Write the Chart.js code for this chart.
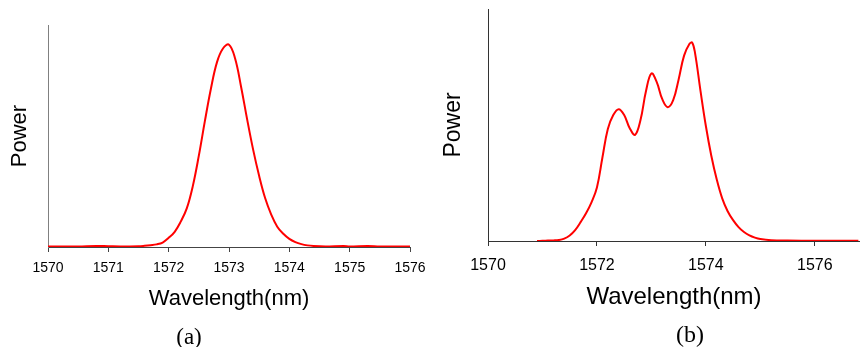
<!DOCTYPE html>
<html>
<head>
<meta charset="utf-8">
<script src="https://cdn.jsdelivr.net/npm/chart.js@4"></script>
<style>
  body { margin: 0; background: #fff; width: 860px; height: 347px; position: relative; overflow: hidden; }
  canvas { position: absolute; top: 0; }
  .cap { position: absolute; font-family: "Liberation Serif", "Times New Roman", serif; color: #000; transform: translate(-50%, -50%); line-height: 1; }
</style>
</head>
<body>
<canvas id="chartA" width="430" height="347" style="left:0"></canvas>
<canvas id="chartB" width="430" height="347" style="left:430px"></canvas>
<div class="cap" style="left:189px;top:336px;font-size:23px">(a)</div>
<div class="cap" style="left:690px;top:334px;font-size:24px">(b)</div>
<script>
// (a) single peak spectrum
const wavelengthA = [1570.0, 1570.5, 1570.8, 1571.0, 1571.2, 1571.5, 1571.6, 1571.7, 1571.8, 1571.9,
  1572.0, 1572.1, 1572.2, 1572.3, 1572.4, 1572.5, 1572.6, 1572.7, 1572.8, 1572.9,
  1573.0, 1573.1, 1573.2, 1573.3, 1573.4, 1573.5, 1573.6, 1573.7, 1573.8, 1573.9,
  1574.0, 1574.1, 1574.2, 1574.3, 1574.4, 1574.6, 1574.9, 1575.0, 1575.3, 1575.5, 1576.0];
const powerA = [0.002, 0.003, 0.005, 0.004, 0.003, 0.004, 0.006, 0.009, 0.013, 0.022,
  0.045, 0.075, 0.125, 0.19, 0.30, 0.45, 0.62, 0.78, 0.91, 0.978,
  0.997, 0.93, 0.79, 0.63, 0.48, 0.35, 0.24, 0.16, 0.10, 0.065,
  0.04, 0.024, 0.014, 0.008, 0.005, 0.003, 0.005, 0.003, 0.005, 0.003, 0.002];
const ticksA = [1570, 1571, 1572, 1573, 1574, 1575, 1576];

// (b) triple peak spectrum
const wavelengthB = [1570.9, 1571.0, 1571.1, 1571.2, 1571.3, 1571.4, 1571.5, 1571.6, 1571.7, 1571.8, 1571.9,
  1572.0, 1572.1, 1572.2, 1572.3, 1572.4, 1572.5, 1572.6, 1572.7, 1572.8, 1572.9,
  1573.0, 1573.1, 1573.2, 1573.3, 1573.4, 1573.5, 1573.6, 1573.7, 1573.75, 1573.8, 1573.9,
  1574.0, 1574.1, 1574.2, 1574.3, 1574.4, 1574.5, 1574.6, 1574.7, 1574.8, 1574.9,
  1575.0, 1575.2, 1575.5, 1576.0, 1576.8];
const powerB = [0.0, 0.001, 0.002, 0.003, 0.005, 0.012, 0.028, 0.055, 0.095, 0.14, 0.195,
  0.27, 0.42, 0.565, 0.635, 0.665, 0.635, 0.57, 0.535, 0.61, 0.755,
  0.845, 0.8, 0.715, 0.675, 0.71, 0.815, 0.935, 0.995, 1.0, 0.95, 0.76,
  0.58, 0.43, 0.31, 0.215, 0.15, 0.105, 0.07, 0.045, 0.028, 0.017,
  0.01, 0.004, 0.002, 0.001, 0.001];
const ticksB = [1570, 1572, 1574, 1576];

const family = '"Liberation Sans", Arial, sans-serif';

function toPoints(xs, ys) {
  return xs.map((x, i) => ({ x: x, y: ys[i] }));
}

function buildChart(id, xs, ys, tickVals, o) {
  return new Chart(document.getElementById(id), {
    type: "line",
    data: {
      datasets: [{
        data: toPoints(xs, ys),
        borderColor: "#ff0000",
        borderWidth: 2,
        pointRadius: 0,
        tension: 0.4,
        fill: false,
      }],
    },
    options: {
      responsive: false,
      animation: false,
      devicePixelRatio: 1,
      layout: { padding: { top: o.top, right: o.right, bottom: 30, left: 0 } },
      plugins: { legend: { display: false }, tooltip: { enabled: false } },
      scales: {
        x: {
          type: "linear",
          min: tickVals[0],
          max: o.xMax,
          afterBuildTicks: (s) => { s.ticks = tickVals.map((v) => ({ value: v })); },
          // fixed axis height, and no extra room for the end labels
          afterFit: (s) => { s.height = o.xHeight; s.paddingLeft = 0; s.paddingRight = 0; },
          grid: { drawOnChartArea: false, drawTicks: true, tickLength: 5, color: o.xColor },
          border: { display: true, color: o.xColor, width: 1 },
          ticks: {
            color: "#000",
            font: { family: family, size: o.tickSize },
            padding: o.tickPad,
            maxRotation: 0,
            autoSkip: false,
            callback: (v) => String(v),
          },
          title: {
            display: true,
            text: "Wavelength(nm)",
            color: "#000",
            font: { family: family, size: o.titleSize },
            padding: { top: 0, bottom: o.titlePad },
          },
        },
        y: {
          min: 0,
          max: o.yMax,
          afterFit: (s) => { s.width = o.yWidth; },
          grid: { drawOnChartArea: false, drawTicks: false },
          border: { display: true, color: o.yColor, width: 1 },
          ticks: { display: false },
          title: {
            display: true,
            text: "Power",
            color: "#000",
            font: { family: family, size: o.yTitleSize },
            padding: { top: o.yTitlePad, bottom: 0 },
          },
        },
      },
    },
  });
}

buildChart("chartA", wavelengthA, powerA, ticksA, {
  top: 25, right: 20, xMax: 1576, yMax: 1.094, xHeight: 70, yWidth: 48,
  xColor: "#444", yColor: "#808080", tickSize: 14, tickPad: 8,
  titleSize: 22, titlePad: 5, yTitleSize: 22, yTitlePad: 7,
});

buildChart("chartB", wavelengthB, powerB, ticksB, {
  top: 9, right: 0, xMax: 1576.83, yMax: 1.17, xHeight: 76, yWidth: 58,
  xColor: "#333", yColor: "#333", tickSize: 16, tickPad: 10,
  titleSize: 24, titlePad: 5, yTitleSize: 23, yTitlePad: 10,
});
</script>
</body>
</html>
